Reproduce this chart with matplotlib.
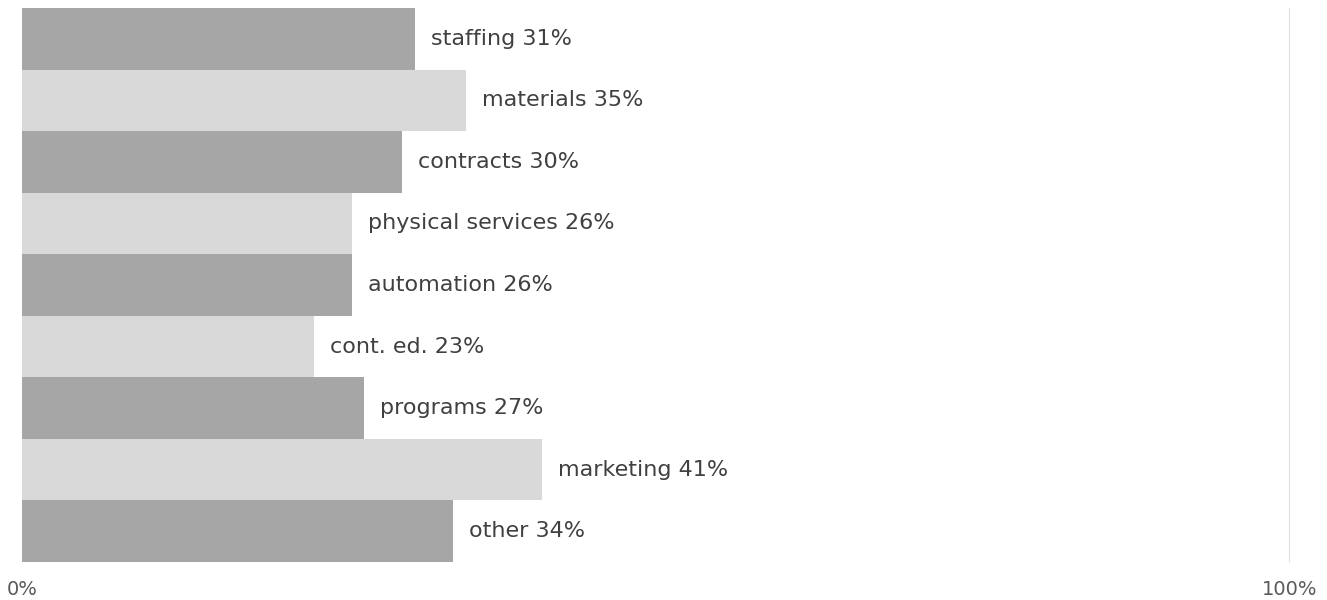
import matplotlib
matplotlib.use("Agg")
import matplotlib.pyplot as plt

categories = ["staffing", "materials", "contracts", "physical services", "automation",
              "cont. ed.", "programs", "marketing", "other"]
values = [31, 35, 30, 26, 26, 23, 27, 41, 34]
tick_values = [0, 100]
tick_labels = ["0%", "100%"]

dark = "#a6a6a6"
light = "#d9d9d9"

plt.rcParams["font.family"] = ["DejaVu Sans"]

fig = plt.figure(figsize=(13.27, 6.0), dpi=100)
ax = fig.add_axes([22 / 1327, 38 / 600, (1290 - 22) / 1327, 554 / 600])

ypos = list(range(len(categories)))
colors = [dark if i % 2 == 0 else light for i in ypos]
ax.barh(ypos, values, height=1.0, color=colors, zorder=2)

for y, cat, v in zip(ypos, categories, values):
    ax.annotate(f"{cat} {v}%", xy=(v, y), xytext=(11.5, 0), textcoords="offset points",
                va="center", ha="left", fontsize=16, color="#404040")

for t in tick_values:
    ax.axvline(t, color="#d9d9d9", linewidth=2, zorder=1)

ax.set_xlim(0, 100)
ax.set_ylim(len(categories) - 0.5, -0.5)
ax.set_xticks(tick_values)
ax.set_xticklabels(tick_labels, fontsize=14, color="#595959")
ax.tick_params(axis="x", length=0, pad=13)
ax.set_yticks([])
for s in ax.spines.values():
    s.set_visible(False)

fig.savefig("out.png", dpi=100, facecolor="white")
